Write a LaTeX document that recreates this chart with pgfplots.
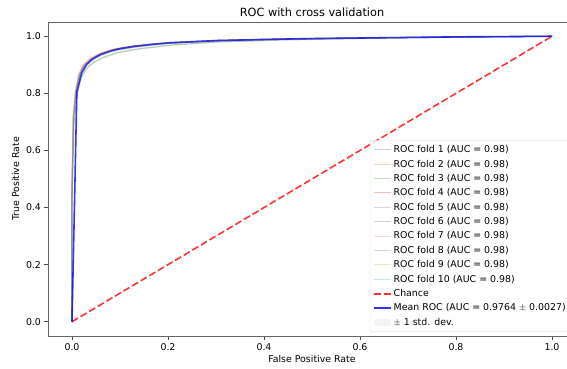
\documentclass[border=0pt]{standalone}
\usepackage{pgfplots}
\pgfplotsset{compat=1.18}
\usepackage{fontspec}
\setmainfont{DejaVu Sans}
\definecolor{c1}{HTML}{1F77B4}
\definecolor{c2}{HTML}{FF7F0E}
\definecolor{c3}{HTML}{2CA02C}
\definecolor{c4}{HTML}{D62728}
\definecolor{c5}{HTML}{9467BD}
\definecolor{c6}{HTML}{8C564B}
\definecolor{c7}{HTML}{E377C2}
\definecolor{c8}{HTML}{7F7F7F}
\definecolor{c9}{HTML}{BCBD22}
\definecolor{c10}{HTML}{17BECF}
\begin{document}
\begin{tikzpicture}
\begin{axis}[
  scale only axis, width=528pt, height=314pt,
  xmin=-0.05, xmax=1.05, ymin=-0.05, ymax=1.05,
  xtick={0,0.2,0.4,0.6,0.8,1.0}, ytick={0,0.2,0.4,0.6,0.8,1.0},
  xticklabel style={/pgf/number format/.cd,fixed,fixed zerofill,precision=1},
  yticklabel style={/pgf/number format/.cd,fixed,fixed zerofill,precision=1},
  /pgf/number format/assume math mode=true,
  tick align=outside, tick pos=left, major tick length=3.5pt,
  tick style={black!70, line width=0.6pt},
  axis line style={black!60, line width=0.8pt},
  ticklabel style={font=\fontsize{9.4}{11}\selectfont},
  title={ROC with cross validation},
  title style={font=\fontsize{11.3}{13}\selectfont, yshift=-4pt},
  xlabel={False Positive Rate}, ylabel={True Positive Rate},
  label style={font=\fontsize{9.4}{11}\selectfont},
  xlabel style={yshift=2pt},
  legend cell align=left,
  legend style={at={(1,0)}, anchor=south east, xshift=-5pt, yshift=4pt,
    draw=black!15, rounded corners=2pt, fill=white, fill opacity=0.8, text opacity=1,
    font=\fontsize{9.4}{11}\selectfont, row sep=1.75pt, inner sep=3pt},
]
% folds
\addplot[c1, opacity=0.3, line width=1pt] coordinates {(0,0)(0,0.45)(0.003,0.71)(0.008,0.80)(0.015,0.86)(0.025,0.895)(0.04,0.918)(0.06,0.935)(0.09,0.952)(0.13,0.963)(0.2,0.976)(0.3,0.984)(0.45,0.99)(0.65,0.995)(0.85,0.998)(1,1)};
\addlegendentry{ROC fold 1 (AUC = 0.98)}
\addplot[c2, opacity=0.3, line width=1pt] coordinates {(0,0)(0,0.50)(0.002,0.72)(0.007,0.81)(0.014,0.868)(0.024,0.902)(0.038,0.924)(0.058,0.94)(0.088,0.956)(0.13,0.967)(0.2,0.978)(0.3,0.986)(0.45,0.991)(0.65,0.996)(0.85,0.998)(1,1)};
\addlegendentry{ROC fold 2 (AUC = 0.98)}
\addplot[c3, opacity=0.3, line width=1pt] coordinates {(0,0)(0,0.42)(0.004,0.69)(0.01,0.79)(0.018,0.85)(0.028,0.885)(0.045,0.91)(0.065,0.927)(0.095,0.944)(0.14,0.957)(0.21,0.97)(0.3,0.98)(0.45,0.988)(0.65,0.994)(0.85,0.997)(1,1)};
\addlegendentry{ROC fold 3 (AUC = 0.98)}
\addplot[c4, opacity=0.3, line width=1pt] coordinates {(0,0)(0,0.48)(0.003,0.72)(0.008,0.81)(0.015,0.866)(0.025,0.9)(0.04,0.922)(0.06,0.94)(0.09,0.955)(0.13,0.966)(0.2,0.977)(0.3,0.985)(0.45,0.991)(0.65,0.995)(0.85,0.998)(1,1)};
\addlegendentry{ROC fold 4 (AUC = 0.98)}
\addplot[c5, opacity=0.3, line width=1pt] coordinates {(0,0)(0,0.44)(0.003,0.70)(0.009,0.80)(0.016,0.858)(0.026,0.893)(0.042,0.917)(0.062,0.934)(0.092,0.95)(0.135,0.962)(0.2,0.974)(0.3,0.983)(0.45,0.99)(0.65,0.995)(0.85,0.998)(1,1)};
\addlegendentry{ROC fold 5 (AUC = 0.98)}
\addplot[c6, opacity=0.3, line width=1pt] coordinates {(0,0)(0,0.46)(0.003,0.705)(0.008,0.805)(0.015,0.862)(0.025,0.897)(0.04,0.92)(0.06,0.937)(0.09,0.953)(0.13,0.964)(0.2,0.976)(0.3,0.984)(0.45,0.99)(0.65,0.995)(0.85,0.998)(1,1)};
\addlegendentry{ROC fold 6 (AUC = 0.98)}
\addplot[c7, opacity=0.3, line width=1pt] coordinates {(0,0)(0,0.49)(0.002,0.715)(0.007,0.808)(0.014,0.865)(0.024,0.9)(0.039,0.922)(0.059,0.938)(0.089,0.954)(0.13,0.965)(0.2,0.977)(0.3,0.985)(0.45,0.991)(0.65,0.995)(0.85,0.998)(1,1)};
\addlegendentry{ROC fold 7 (AUC = 0.98)}
\addplot[c8, opacity=0.3, line width=1pt] coordinates {(0,0)(0,0.40)(0.004,0.68)(0.01,0.785)(0.018,0.848)(0.029,0.884)(0.046,0.908)(0.066,0.925)(0.096,0.942)(0.14,0.955)(0.21,0.969)(0.3,0.979)(0.45,0.987)(0.65,0.993)(0.85,0.997)(1,1)};
\addlegendentry{ROC fold 8 (AUC = 0.98)}
\addplot[c9, opacity=0.3, line width=1pt] coordinates {(0,0)(0,0.47)(0.003,0.71)(0.008,0.802)(0.015,0.86)(0.025,0.896)(0.04,0.92)(0.06,0.938)(0.09,0.955)(0.13,0.966)(0.2,0.978)(0.3,0.986)(0.45,0.991)(0.65,0.996)(0.85,0.998)(1,1)};
\addlegendentry{ROC fold 9 (AUC = 0.98)}
\addplot[c10, opacity=0.3, line width=1pt] coordinates {(0,0)(0,0.45)(0.003,0.705)(0.008,0.8)(0.015,0.861)(0.025,0.896)(0.04,0.919)(0.06,0.936)(0.09,0.952)(0.13,0.964)(0.2,0.975)(0.3,0.984)(0.45,0.99)(0.65,0.995)(0.85,0.998)(1,1)};
\addlegendentry{ROC fold 10 (AUC = 0.98)}
% chance
\addplot[red, opacity=0.8, dash pattern=on 7pt off 3pt, line width=1.6pt] coordinates {(0,0)(1,1)};
\addlegendentry{Chance}
% mean
\addplot[blue, opacity=0.8, line width=1.6pt] coordinates {(0,0)(0.0101,0.805)(0.0202,0.872)(0.0303,0.901)(0.0404,0.917)(0.0505,0.928)(0.0606,0.937)(0.0808,0.949)(0.101,0.957)(0.131,0.965)(0.162,0.971)(0.202,0.977)(0.253,0.981)(0.303,0.985)(0.404,0.989)(0.505,0.992)(0.606,0.994)(0.707,0.996)(0.808,0.998)(0.909,0.999)(1.0,1.0)};
\addlegendentry{Mean ROC (AUC = 0.9764 $\pm$ 0.0027)}
% std band
\addplot[fill=gray, fill opacity=0.2, draw=none, legend image code/.code={\fill[black!22] (0pt,-3.5pt) rectangle (17pt,3.5pt);}] coordinates {(0,0)(0.0101,0.82)(0.0202,0.882)(0.0303,0.909)(0.0404,0.924)(0.0505,0.934)(0.0606,0.942)(0.0808,0.953)(0.101,0.961)(0.131,0.969)(0.162,0.974)(0.202,0.98)(0.253,0.984)(0.303,0.987)(0.404,0.991)(0.505,0.994)(0.606,0.996)(0.707,0.998)(0.808,0.999)(0.909,1.0)(1.0,1.0)
(1.0,1.0)(0.909,0.998)(0.808,0.997)(0.707,0.994)(0.606,0.992)(0.505,0.99)(0.404,0.987)(0.303,0.983)(0.253,0.978)(0.202,0.974)(0.162,0.968)(0.131,0.961)(0.101,0.953)(0.0808,0.945)(0.0606,0.932)(0.0505,0.922)(0.0404,0.91)(0.0303,0.893)(0.0202,0.862)(0.0101,0.79)(0,0)} -- cycle;
\addlegendentry{$\pm$ 1 std. dev.}
\end{axis}
\pgfresetboundingbox
\path (current axis.south west) ++(-48pt,-33pt) rectangle ++(567pt,369pt);
\end{tikzpicture}
\end{document}
